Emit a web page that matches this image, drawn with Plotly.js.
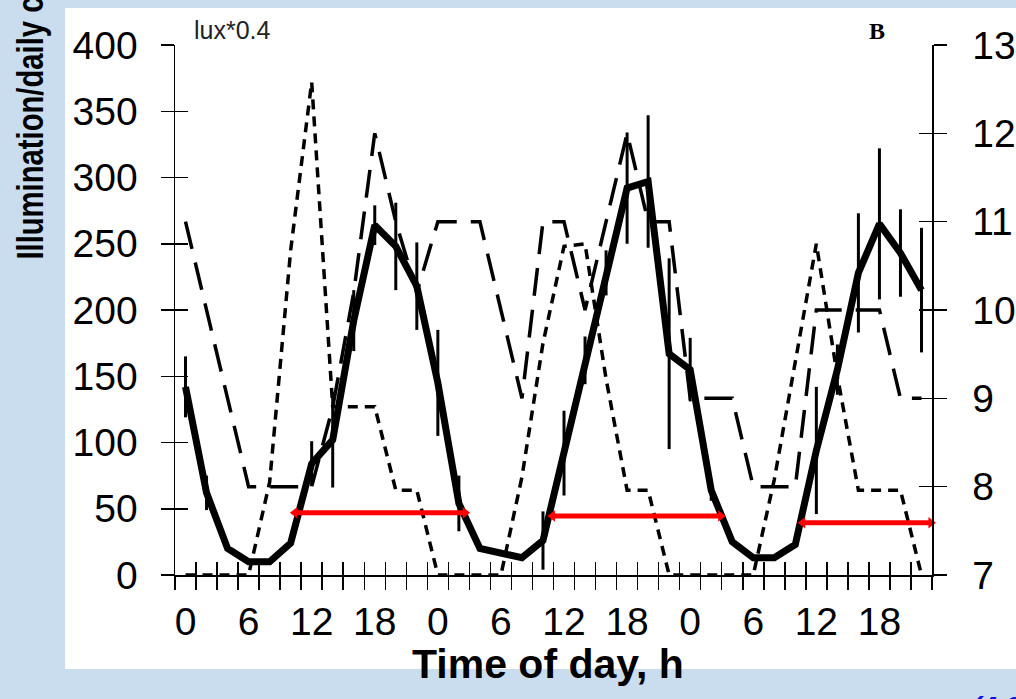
<!DOCTYPE html>
<html>
<head>
<meta charset="utf-8">
<script src="https://cdn.plot.ly/plotly-3.0.1.min.js"></script>
<style>html,body{margin:0;padding:0;background:#c9ddef;}#chart{width:1016px;height:699px;}</style>
</head>
<body>
<div id="chart"></div>
<script>
// ---- data ----
var hours = [0,2,4,6,8,10,12,14,16,18,20,22,24,26,28,30,32,34,36,38,40,42,44,46,48,50,52,54,56,58,60,62,64,66,68,70];
// thick black series (left axis) with error bars
var activity = [142,62,20,10,10,24,84,102,192,264,248,218, 145,54,20,17,13,26,92,162,228,292,297,167, 155,64,25,13,13,23,94,155,228,265,243,215];
var activityErr = [23,13,0,0,0,0,17,36,23,15,33,33, 40,21,0,0,0,22,32,18,17,42,50,72, 24,8,0,0,0,0,48,19,45,57,33,47];
// short-dashed series: illumination, lux*0.4 (left axis)
var lux = [0,0,0,0,70,245,372,127,127,127,64,64, 0,0,0,0,74,175,248,250,148,64,64,0, 0,0,0,0,72,160,250,150,64,64,64,0];
// long-dashed series (right axis)
var rightSeries = [11,10,9,8,8,8,8,8.9,10.2,12,11,10.2, 11,11,11,10,9,11,11,10,11,12,11,11, 9,9,9,8,8,8,10,10,10,10,9,9];
// red horizontal bars (left axis units)
var barX = [10.4,26.6,null,34.9,50.9,null,58.7,70.9];
var barY = [47,47,null,44.5,44.5,null,39.5,39.5];
var barSymbols = ['triangle-left','triangle-right','circle','triangle-left','triangle-right','circle','triangle-left','triangle-right'];
// axis ticks and labels
var minorTicks = [-1,1,3,5,7,9,11,13,15,17,19,21,23,25,27,29,31,33,35,37,39,41,43,45,47,49,51,53,55,57,59,61,63,65,67,69,71];
var labelHours = [0,6,12,18,24,30,36,42,48,54,60,66];
var labelText = ['0','6','12','18','0','6','12','18','0','6','12','18'];
var leftTicks = [0,50,100,150,200,250,300,350,400];
var rightTicks = [7,8,9,10,11,12,13];
var yTitle = 'Illumination/daily changes';

var tickFont = {family:'Liberation Sans, Arial, sans-serif', size:39, color:'#000'};

var traces = [
  {x:hours, y:rightSeries, xaxis:'x', yaxis:'y2', mode:'lines', line:{color:'#000', width:3.5, dash:'28px,14px'}, hoverinfo:'skip', showlegend:false},
  {x:hours, y:lux, xaxis:'x', yaxis:'y', mode:'lines', line:{color:'#000', width:3.5, dash:'10px,7px'}, hoverinfo:'skip', showlegend:false},
  {x:hours, y:activity, xaxis:'x', yaxis:'y', mode:'lines', line:{color:'#000', width:7},
   error_y:{type:'data', array:activityErr, visible:true, color:'#000', thickness:3, width:0}, hoverinfo:'skip', showlegend:false},
  {x:barX, y:barY, xaxis:'x', yaxis:'y', mode:'lines+markers', line:{color:'#ff0000', width:5},
   marker:{symbol:barSymbols, size:10, color:'#ff0000'}, cliponaxis:false, connectgaps:false, hoverinfo:'skip', showlegend:false},
  // helpers so the overlay tick axes are drawn
  {x:[null], y:[null], xaxis:'x2', yaxis:'y3', mode:'markers', hoverinfo:'skip', showlegend:false},
  {x:[null], y:[null], xaxis:'x3', yaxis:'y4', mode:'markers', hoverinfo:'skip', showlegend:false}
];

var xr = [-1, 71];
var layout = {
  width:1016, height:699,
  margin:{l:175, r:84, t:45, b:124, pad:0},
  paper_bgcolor:'#c9ddef',
  plot_bgcolor:'rgba(0,0,0,0)',
  showlegend:false,
  xaxis:{range:xr, tickmode:'array', tickvals:minorTicks, ticks:'outside', ticklen:13, tickwidth:1.5, tickcolor:'#000',
         showticklabels:false, showline:true, linecolor:'#000', linewidth:1.5, showgrid:false, zeroline:false, anchor:'y', fixedrange:true},
  xaxis2:{range:xr, overlaying:'x', anchor:'y', tickmode:'array', tickvals:minorTicks, ticks:'inside', ticklen:13, tickwidth:1.5, tickcolor:'#000',
          showticklabels:false, showline:false, showgrid:false, zeroline:false},
  xaxis3:{range:xr, overlaying:'x', anchor:'y', tickmode:'array', tickvals:labelHours, ticktext:labelText, ticks:'',
          showline:false, showgrid:false, zeroline:false, tickfont:tickFont, ticklabelstandoff:20},
  yaxis:{range:[0,400], tickmode:'array', tickvals:leftTicks, ticks:'outside', ticklen:13, tickwidth:1.5, tickcolor:'#000',
         showline:true, linecolor:'#000', linewidth:1.5, showgrid:false, zeroline:false, tickfont:tickFont, ticklabelstandoff:15, anchor:'x'},
  yaxis3:{range:[0,400], overlaying:'y', anchor:'x', side:'left', tickmode:'array', tickvals:leftTicks, ticks:'inside', ticklen:13, tickwidth:1.5, tickcolor:'#000',
          showticklabels:false, showline:false, showgrid:false, zeroline:false},
  yaxis2:{range:[7,13], overlaying:'y', side:'right', anchor:'x', tickmode:'array', tickvals:rightTicks, ticks:'outside', ticklen:13, tickwidth:1.5, tickcolor:'#000',
          showline:true, linecolor:'#000', linewidth:1.5, showgrid:false, zeroline:false, tickfont:tickFont, ticklabelstandoff:18},
  yaxis4:{range:[7,13], overlaying:'y', side:'right', anchor:'x', tickmode:'array', tickvals:rightTicks, ticks:'inside', ticklen:13, tickwidth:1.5, tickcolor:'#000',
          showticklabels:false, showline:false, showgrid:false, zeroline:false},
  shapes:[
    {type:'rect', xref:'paper', yref:'paper', x0:-0.1453, x1:1.12, y0:-0.1774, y1:1.0698, fillcolor:'#ffffff', line:{width:0}, layer:'below'}
  ],
  annotations:[
    {xref:'paper', yref:'paper', x:0.0225, y:1.0289, xanchor:'left', yanchor:'middle', showarrow:false,
     text:'lux*0.4', font:{family:'Liberation Sans, Arial, sans-serif', size:25, color:'#222'}},
    {xref:'paper', yref:'paper', x:0.928, y:1.0266, xanchor:'center', yanchor:'middle', showarrow:false,
     text:'<b>B</b>', font:{family:'Liberation Serif, Times New Roman, serif', size:24, color:'#000'}},
    {xref:'paper', yref:'paper', x:0.4927, y:-0.1679, xanchor:'center', yanchor:'middle', showarrow:false,
     text:'<b>Time of day, h</b>', font:{family:'Liberation Sans, Arial, sans-serif', size:41, color:'#000'}},
    {xref:'paper', yref:'paper', x:-0.1913, y:0.5906, xanchor:'center', yanchor:'bottom', showarrow:false, textangle:-90,
     text:'<b>' + yTitle + '</b>', font:{family:'Liberation Sans, Arial, sans-serif', size:37, color:'#000'}},
    {xref:'paper', yref:'paper', x:1.05, y:-0.2151, xanchor:'left', yanchor:'top', showarrow:false,
     text:'<b><i>(4.0)</i></b>', font:{family:'Liberation Sans, Arial, sans-serif', size:28, color:'#1010e0'}}
  ]
};

Plotly.newPlot('chart', traces, layout, {staticPlot:true, displayModeBar:false}).then(function(gd){
  // the reference draws the y title in a condensed face: narrow it along its reading direction
  try {
    var nodes = gd.querySelectorAll('text.annotation-text');
    for (var i = 0; i < nodes.length; i++) {
      var t = nodes[i];
      if (t.textContent.indexOf('Illumination') === 0) {
        var bb = t.getBBox();
        var x0 = bb.x, s = 0.79;
        t.setAttribute('transform', 'translate(' + x0 + ',0) scale(' + s + ',1) translate(' + (-x0) + ',0)');
      }
    }
  } catch (e) {}
});
</script>
</body>
</html>
